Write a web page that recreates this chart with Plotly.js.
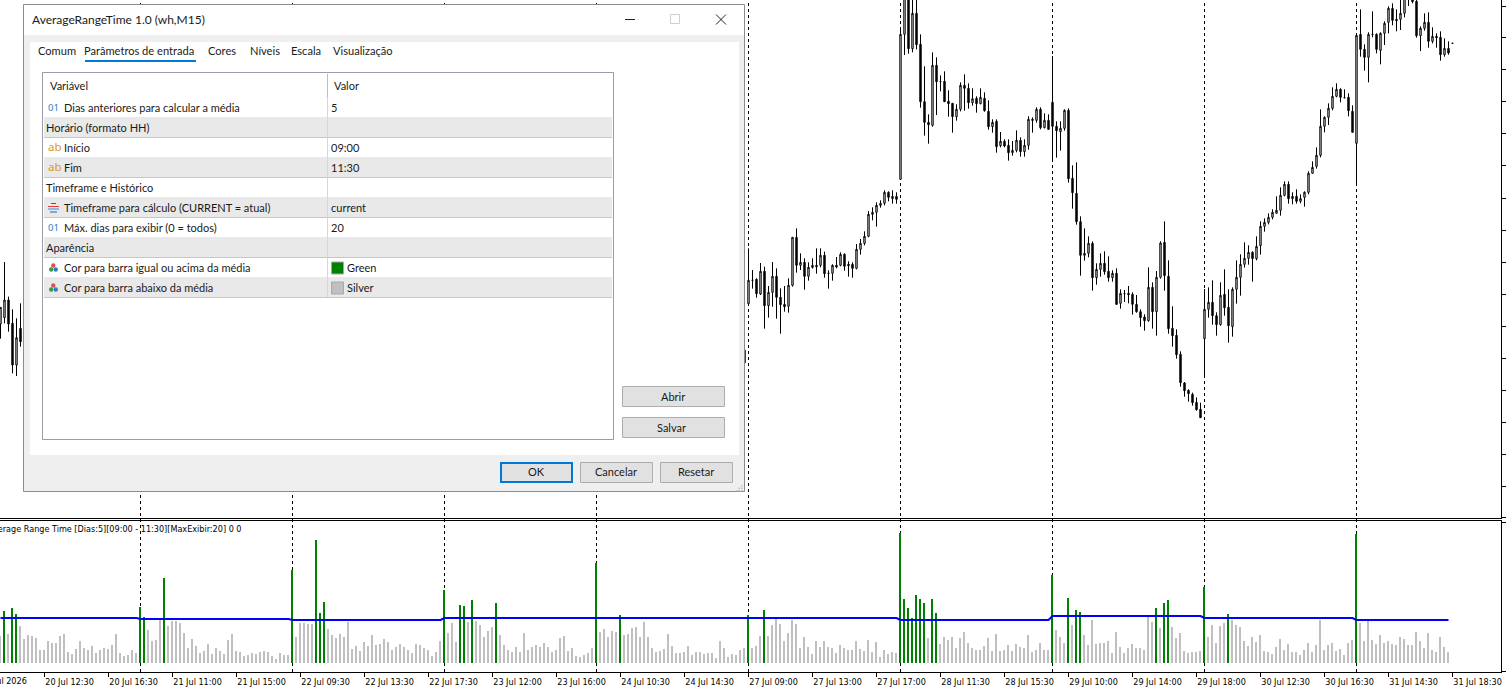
<!DOCTYPE html>
<html><head><meta charset="utf-8">
<script src="https://cdn.plot.ly/plotly-3.0.1.min.js"></script>
<style>html,body{margin:0;padding:0;background:#fff;overflow:hidden}#chart{width:1506px;height:693px}</style>
</head><body><div id="chart"></div>
<script>
const candleIndex=[0,1,2,3,4,5,186,187,188,189,190,191,192,193,194,195,196,197,198,199,200,201,202,203,204,205,206,207,208,209,210,211,212,213,214,215,216,217,218,219,220,221,222,223,224,225,226,227,228,229,230,231,232,233,234,235,236,237,238,239,240,241,242,243,244,245,246,247,248,249,250,251,252,253,254,255,256,257,258,259,260,261,262,263,264,265,266,267,268,269,270,271,272,273,274,275,276,277,278,279,280,281,282,283,284,285,286,287,288,289,290,291,292,293,294,295,296,297,298,299,300,301,302,303,304,305,306,307,308,309,310,311,312,313,314,315,316,317,318,319,320,321,322,323,324,325,326,327,328,329,330,331,332,333,334,335,336,337,338,339,340,341,342,343,344,345,346,347,348,349,350,351,352,353,354,355,356,357,358,359,360,361,362,363];
const opens=[588,607,660,590,465,575,510,649,719,722,678,746,643,683,731,668,647,641,704,848,764,773,731,758,764,764,794,740,740,764,764,797,767,767,755,812,830,851,917,923,944,950,983,964,971,1022,1457,1580,1414,1520,1427,1255,1193,1184,1364,1315,1316,1256,1250,1210,1232,1304,1295,1252,1265,1249,1265,1226,1180,1196,1123,1136,1124,1102,1109,1139,1105,1124,1202,1199,1232,1177,1199,1253,1181,1165,1175,1229,1025,980,895,794,800,830,727,752,770,746,727,740,650,679,680,677,647,625,609,598,698,625,728,833,731,575,554,497,411,389,377,353,332,544,632,653,613,586,677,638,580,692,728,767,785,803,784,823,881,893,908,920,929,974,1007,964,971,956,968,983,1040,1061,1094,1181,1208,1235,1271,1292,1267,1268,1226,1130,1457,1412,1388,1457,1457,1409,1460,1493,1535,1502,1502,1520,1590,1570,1556,1453,1475,1493,1436,1451,1448,1396,1415,1430];
const highs=[638,774,670,632,605,650,510,815,750,725,771,760,702,774,755,695,702,725,848,875,800,785,773,785,815,815,805,749,767,789,803,800,776,773,828,843,866,927,938,953,959,989,986,989,983,1470,1600,1600,1570,1570,1457,1361,1217,1403,1388,1334,1346,1289,1250,1247,1313,1337,1310,1295,1271,1295,1283,1259,1202,1202,1164,1142,1142,1137,1169,1148,1142,1211,1208,1238,1238,1220,1217,1392,1196,1196,1232,1235,1064,1073,911,875,851,836,770,800,806,791,749,755,692,690,702,683,675,632,617,758,713,747,836,896,779,641,572,506,414,392,382,368,352,693,698,719,623,713,752,692,698,779,797,833,824,806,851,896,905,920,932,971,998,1016,1016,983,992,977,986,1046,1076,1118,1232,1211,1250,1298,1310,1295,1292,1280,1244,1460,1532,1427,1463,1526,1460,1463,1496,1541,1550,1532,1565,1580,1600,1575,1560,1481,1520,1523,1478,1460,1466,1445,1436,1430];
const lows=[544,590,565,440,432,520,471,645,694,667,675,574,607,640,604,559,625,622,700,742,750,691,718,754,739,758,727,694,718,755,761,748,730,727,752,796,824,848,899,880,937,944,956,949,949,1022,1395,1399,1403,1412,1237,1153,1129,1180,1215,1286,1254,1210,1162,1198,1226,1228,1234,1243,1222,1247,1225,1171,1162,1102,1118,1118,1078,1093,1103,1090,1090,1111,1162,1192,1172,1175,1172,1079,1087,1108,1168,1012,934,886,733,778,788,688,706,730,736,715,715,645,634,654,650,616,622,580,568,595,574,553,724,688,559,520,484,400,370,355,343,328,307,428,607,586,553,583,613,532,550,649,673,757,766,715,779,796,865,887,902,920,913,971,949,947,949,950,940,977,1040,1054,1088,1163,1185,1229,1268,1253,1265,1211,1162,1007,1390,1348,1313,1448,1400,1367,1425,1460,1484,1466,1470,1508,1542,1550,1447,1407,1468,1417,1430,1417,1378,1390,1396,1430];
const closes=[638,660,588,465,547,535,471,719,719,679,746,643,683,731,668,646,640,704,848,764,773,731,758,764,760,794,739,740,764,759,797,761,763,755,812,830,851,917,923,944,950,983,968,971,962,1457,1580,1414,1520,1426,1255,1193,1186,1364,1315,1315,1255,1249,1210,1232,1304,1295,1252,1264,1249,1268,1228,1180,1193,1120,1136,1122,1102,1109,1139,1105,1124,1202,1199,1232,1177,1199,1172,1181,1168,1175,1229,1024,982,895,794,800,830,727,752,770,745,727,740,647,680,679,676,647,625,607,598,698,625,728,831,733,574,553,496,412,388,379,352,331,307,632,653,613,586,674,637,583,692,728,767,785,803,784,821,881,893,908,923,929,974,1007,964,971,956,964,983,1040,1058,1094,1181,1208,1235,1271,1292,1268,1267,1228,1163,1454,1412,1388,1457,1457,1412,1460,1490,1535,1499,1498,1520,1570,1570,1555,1453,1475,1493,1436,1451,1447,1396,1415,1401,1430];

const barValues=[81,156,87,165,147,111,72,84,81,75,39,39,66,60,60,81,87,33,27,42,66,45,39,51,30,39,45,42,54,87,30,21,24,39,30,168,138,99,66,69,129,255,111,126,126,120,90,45,72,51,30,36,57,27,45,36,27,69,87,36,33,21,24,30,27,33,36,33,21,12,30,24,24,279,78,120,120,117,117,369,150,183,102,84,75,87,78,123,42,51,36,63,51,84,54,57,72,63,39,48,57,48,39,30,57,54,45,39,21,33,66,219,90,120,63,174,171,123,189,126,114,78,96,108,180,84,54,39,33,48,33,90,39,48,54,48,60,48,33,39,75,81,36,45,21,18,24,30,45,300,93,102,78,96,93,144,84,87,105,108,78,123,78,45,33,36,42,87,51,30,30,33,51,24,33,33,27,30,30,15,66,45,18,27,24,39,45,144,45,51,81,159,81,114,132,117,66,90,129,117,45,78,48,27,66,48,66,48,45,30,54,45,39,39,66,42,36,69,33,63,18,39,27,33,30,390,192,165,135,204,192,180,75,192,150,57,78,69,78,45,75,93,60,45,39,39,51,75,36,87,36,39,54,36,57,48,45,84,33,39,60,39,39,264,99,78,60,195,114,159,153,84,54,129,57,60,60,66,30,93,48,30,45,57,45,45,39,138,123,165,105,180,189,108,75,90,36,30,33,33,36,228,78,114,60,111,120,147,129,114,108,66,51,78,63,84,36,33,27,48,72,39,57,33,33,24,39,60,33,54,129,39,54,60,36,42,24,60,69,387,120,66,126,69,57,84,60,66,57,54,78,72,54,54,93,66,45,90,39,33,78,48,33];
const dayFirstBar=[0,35,73,111,149,187,225,263,301,339];
const dayLastBar=[34,72,110,148,186,224,262,300,338,362];
const dayAverage=[135,132,129,135,135,135,129,141,135,129];

const tickBars=[11,27,43,59,75,91,107,123,139,155,171,187,203,219,235,251,267,283,299,315,331,347,363];
const tickLabels=["20 Jul 12:30","20 Jul 16:30","21 Jul 11:00","21 Jul 15:00","22 Jul 09:30","22 Jul 13:30","22 Jul 17:30","23 Jul 12:00","23 Jul 16:00","24 Jul 10:30","24 Jul 14:30","27 Jul 09:00","27 Jul 13:00","27 Jul 17:00","28 Jul 11:30","28 Jul 15:30","29 Jul 10:00","29 Jul 14:00","29 Jul 18:00","30 Jul 12:30","30 Jul 16:30","31 Jul 14:30","31 Jul 18:30"];
const priceTicks=[1542,1447,1352,1256,1160,1064,965,869,773,677,581,485,389,293,197,101,8];
const panelTitle="Average Range Time [Dias:5][09:00 - 11:30][MaxExibir:20] 0 0";

const dialogTitle="AverageRangeTime 1.0 (wh,M15)";
const tabNames=["Comum","Parâmetros de entrada","Cores","Níveis","Escala","Visualização"];
const rowVariables=["Dias anteriores para calcular a média","Horário (formato HH)","Início","Fim","Timeframe e Histórico","Timeframe para cálculo (CURRENT = atual)","Máx. dias para exibir (0 = todos)","Aparência","Cor para barra igual ou acima da média","Cor para barra abaixo da média"];
const rowValues=["5","","09:00","11:30","","current","20","","Green","Silver"];
const rowKinds=["int","group","text","text","group","enum","int","group","color","color"];
const buttonNames=["Abrir","Salvar","OK","Cancelar","Resetar"];

const W=1501,H=672;
const UI="Lato,sans-serif";
const CH="'DejaVu Sans Condensed','DejaVu Sans',sans-serif";
const px=x=>x/W, py=y=>1-y/H;
const shapes=[],notes=[];
function rect(x0,y0,x1,y1,fill,line,lw){shapes.push({type:'rect',xref:'paper',yref:'paper',layer:'above',x0:px(x0),x1:px(x1),y0:py(y0),y1:py(y1),fillcolor:fill||'rgba(0,0,0,0)',line:{color:line||'rgba(0,0,0,0)',width:line?(lw||1):0}});}
function seg(x0,y0,x1,y1,c,w){shapes.push({type:'line',xref:'paper',yref:'paper',layer:'above',x0:px(x0),x1:px(x1),y0:py(y0),y1:py(y1),line:{color:c,width:w||1}});}
function dot(cx,cy,r,c){shapes.push({type:'circle',xref:'paper',yref:'paper',layer:'above',x0:px(cx-r),x1:px(cx+r),y0:py(cy-r),y1:py(cy+r),fillcolor:c,line:{width:0}});}
function label(x,y,t,o){o=o||{};notes.push({xref:'paper',yref:'paper',x:px(x-(o.a?0.5:1)),y:py(y-0.5),text:t,showarrow:false,xanchor:o.a||'left',yanchor:'middle',borderpad:0,font:{family:o.f||UI,size:o.s||11,color:o.c||'#1a1a1a'}});}

dayFirstBar.slice(1).forEach(i=>shapes.push({type:'line',xref:'x',yref:'paper',layer:'below',x0:i,x1:i,y0:0,y1:1,line:{color:'#000',width:1,dash:'3px,3px'}}));

// dialog window
rect(23.5,4.5,744.5,491.5,'#efefef','#8c8c8c');
rect(24,5,744,35,'#ffffff');
rect(30,42,739,455,'#ffffff');
label(32,20,dialogTitle,{s:12});
seg(625,19.5,635,19.5,'#222');
rect(670.5,14.5,679.5,23.5,'#fff','#cfcfcf');
seg(716,14.5,726,24.5,'#222');seg(716,24.5,726,14.5,'#222');
const tabX=[37.5,84,208,250,291,333];
tabNames.forEach((t,i)=>label(tabX[i],51,t,{s:11.1}));
rect(85,60,196,62,'#0078d7');
// table
rect(42.5,72.5,613.5,439.5,'#fff','#9a9ca8');
label(49.5,86,'Variável');label(333.5,86,'Valor');
seg(327.5,74,327.5,97,'#bdbdbd');
rowVariables.forEach((t,i)=>{
  const top=97+20*i,mid=top+11;
  if(i%2===1) rect(44,top,612,top+20,'#e9e9e9');
  seg(44,top+20.5,612,top+20.5,'#c6c6c6');
  seg(327.5,top,327.5,top+20,'#d6d6d6');
  const k=rowKinds[i];
  label(k==='group'?46:64,mid,t);
  if(k==='int') label(48,mid,'01',{c:'#2f7fb8',s:9.5,f:"'Noto Sans',sans-serif"});
  if(k==='text') label(48,mid-1,'ab',{c:'#d8992a',s:11.5,f:"'Noto Sans',sans-serif"});
  if(k==='enum'){seg(51,top+6.5,56,top+6.5,'#2f5fb5');seg(48,top+9.5,59,top+9.5,'#e0403a');seg(48,top+12,59,top+12,'#2f8fe0');seg(50,top+15,57,top+15,'#2f5fb5');}
  if(k==='color'){dot(53.3,mid-2.5,2.2,'#d9534f');dot(51.2,mid+1.5,2.2,'#3c9a4a');dot(55.8,mid+1.5,2.2,'#2f7fb8');}
  if(k==='color'){
    rect(331.5,mid-6,343.5,mid+6,rowValues[i]==='Green'?'#008000':'#c0c0c0','#a8a8a8');
    label(346.5,mid,rowValues[i]);
  } else if(rowValues[i]) label(331,mid,rowValues[i]);
});
// buttons
const btn=[[622.5,386.5,724.5,406.5],[622.5,417.5,724.5,437.5],[501,463,572,482],[580.5,462.5,652.5,482.5],[660.5,462.5,732.5,482.5]];
buttonNames.forEach((t,i)=>{
  const b=btn[i];
  if(t==='OK') rect(b[0],b[1],b[2],b[3],'#e1e1e1','#0078d7',2); else rect(b[0],b[1],b[2],b[3],'#e1e1e1','#adadad');
  label((b[0]+b[2])/2-(t==='Salvar'?1.5:0),(b[1]+b[3])/2,t,{a:'center'});
});
[[741,485],[738.5,487.5],[741,487.5],[736,490],[738.5,490],[741,490]].forEach(p=>rect(p[0],p[1],p[0]+1.5,p[1]+1.5,'#bdbdbd'));

notes.push({xref:'paper',yref:'paper',x:px(243),y:py(529),text:panelTitle,showarrow:false,xanchor:'right',yanchor:'middle',borderpad:0,font:{family:CH,size:9,color:'#000'}});
notes.push({xref:'paper',yref:'paper',x:0,xshift:-20,y:0,yshift:-9,text:'20 Jul 2026',showarrow:false,xanchor:'left',yanchor:'middle',borderpad:0,font:{family:CH,size:9,color:'#000'}});

const avgX=[],avgY=[];
dayFirstBar.forEach((d,k)=>{avgX.push(d,dayLastBar[k]);avgY.push(dayAverage[k],dayAverage[k]);});
const barX=barValues.map((_,i)=>i);
const dayOf=i=>dayFirstBar.filter(d=>d<=i).length-1;
const barColors=barValues.map((v,i)=>v>=dayAverage[dayOf(i)]?'#008000':'#c0c0c0');

const traces=[
 {type:'candlestick',x:candleIndex,open:opens,high:highs,low:lows,close:closes,xaxis:'x',yaxis:'y',whiskerwidth:0,hoverinfo:'skip',
  increasing:{line:{color:'#000',width:1},fillcolor:'#fff'},decreasing:{line:{color:'#000',width:1},fillcolor:'#000'}},
 {type:'bar',x:barX,y:barValues,xaxis:'x2',yaxis:'y2',width:0.5,offset:-0.375,marker:{color:barColors,line:{width:0}},hoverinfo:'skip'},
 {type:'scatter',mode:'lines',x:avgX,y:avgY,xaxis:'x2',yaxis:'y2',line:{color:'#0000ff',width:2},hoverinfo:'skip'}
];
const xr=[-0.125,375.125];
const layout={width:1506,height:693,margin:{l:0,r:5,t:0,b:21,pad:0},paper_bgcolor:'#fff',plot_bgcolor:'#fff',showlegend:false,boxgap:0.5,barmode:'overlay',
 xaxis:{domain:[0,1],range:xr,anchor:'y',showgrid:false,zeroline:false,showline:true,linecolor:'#000',linewidth:1,ticks:'',showticklabels:false,rangeslider:{visible:false}},
 yaxis:{domain:[154/672,1],range:[6,1560],anchor:'x',side:'right',showgrid:false,zeroline:false,showline:true,linecolor:'#000',linewidth:1,tickmode:'array',tickvals:priceTicks,ticks:'outside',ticklen:4,tickcolor:'#000',showticklabels:false},
 xaxis2:{domain:[0,1],range:xr,anchor:'y2',showgrid:false,zeroline:false,showline:true,mirror:true,linecolor:'#000',linewidth:1,tickmode:'array',tickvals:tickBars,ticktext:tickLabels,ticks:'outside',ticklen:4,tickcolor:'#000',tickangle:0,ticklabelshift:25,ticklabelstandoff:-3,tickfont:{family:CH,size:9,color:'#000'}},
 yaxis2:{domain:[0,151/672],range:[-27,426],anchor:'x2',side:'right',showgrid:false,zeroline:false,showline:true,linecolor:'#000',linewidth:1,tickmode:'array',tickvals:[-24,423],ticks:'outside',ticklen:4,tickcolor:'#000',showticklabels:false},
 shapes:shapes,annotations:notes};
Plotly.newPlot('chart',traces,layout,{displayModeBar:false,staticPlot:true});
</script></body></html>
